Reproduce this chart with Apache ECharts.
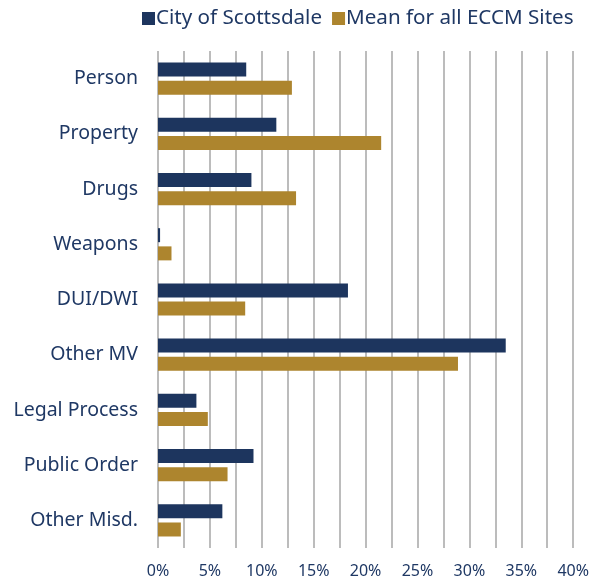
<!DOCTYPE html>
<html><head><meta charset="utf-8">
<script src="https://cdn.jsdelivr.net/npm/echarts@6/dist/echarts.min.js"></script>
<style>html,body{margin:0;padding:0;background:#fff}#c{width:592px;height:583px}</style>
</head><body><div id="c"></div>
<script>
const categories = ['Person','Property','Drugs','Weapons','DUI/DWI','Other MV','Legal Process','Public Order','Other Misd.'];
const scottsdale = [8.5, 11.4, 9.0, 0.2, 18.3, 33.5, 3.7, 9.2, 6.2];
const ecmmMean = [12.9, 21.5, 13.3, 1.3, 8.4, 28.9, 4.8, 6.7, 2.2];
const seriesNames = ['City of Scottsdale', 'Mean for all ECCM Sites'];
const xTicks = [0, 5, 10, 15, 20, 25, 30, 35, 40];

const textColor = '#1F3864';
const font = 'Noto Sans';
const chart = echarts.init(document.getElementById('c'));
chart.setOption({
  animation: false,
  legend: {
    top: 3, left: 137,
    itemWidth: 13, itemHeight: 13, itemGap: 10,
    icon: 'rect',
    textStyle: {color: textColor, fontSize: 20.6, fontFamily: font, padding: [0,0,0,-4]},
    data: seriesNames
  },
  grid: {left: 158, right: 17, top: 51, height: 497},
  xAxis: {
    type: 'value', min: 0, max: 40, interval: 2.5,
    axisLine: {show: false}, axisTick: {show: false},
    splitLine: {show: true, lineStyle: {color: '#a6a6a6', width: 1.5}},
    axisLabel: {
      color: textColor, fontSize: 16, fontFamily: font, margin: 15,
      formatter: v => xTicks.includes(v) ? v + '%' : ''
    }
  },
  yAxis: {
    type: 'category', inverse: true, data: categories,
    axisLine: {show: false}, axisTick: {show: false},
    axisLabel: {color: textColor, fontSize: 19.5, fontFamily: font, margin: 20}
  },
  series: [
    {name: seriesNames[0], type: 'bar', data: scottsdale, barWidth: 14, barGap: '30%',
     itemStyle: {color: '#1D355E'}},
    {name: seriesNames[1], type: 'bar', data: ecmmMean, barWidth: 14, barGap: '30%',
     itemStyle: {color: '#AD852E'}}
  ]
});
</script></body></html>
